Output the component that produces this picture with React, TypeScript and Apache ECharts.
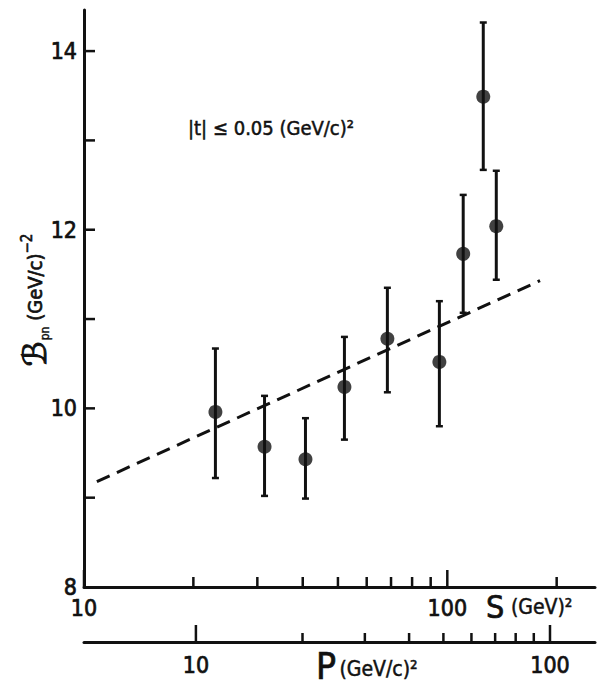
import React, { useEffect, useRef } from 'react';
import * as echarts from 'echarts';

// Measured data: s (GeV^2), slope B_pn (GeV/c)^-2 with error bars
const sValues = [23.0, 31.4, 40.7, 52.1, 68.4, 95.1, 110.6, 125.6, 136.4];
const bValues = [9.96, 9.57, 9.43, 10.24, 10.78, 10.52, 11.73, 13.49, 12.04];
const bHigh = [10.67, 10.14, 9.89, 10.8, 11.35, 11.2, 12.39, 14.32, 12.66];
const bLow = [9.22, 9.02, 8.99, 9.65, 10.18, 9.8, 11.07, 12.67, 11.44];

// Dashed fit line end points
const fitS = [10.85, 180];
const fitB = [9.18, 11.43];

// Tick values
const sMajorTicks = [10, 100];
const sMinorTicks = [20, 30, 40, 50, 60, 70, 80, 90, 200];
const pMajorTicks = [10, 100];
const pMinorTicks = [20, 30, 40, 50, 60, 70, 80, 90];
const yTicks = [9, 10, 11, 12, 13, 14];
const yLabelValues = [8, 10, 12, 14];

const FONT = "'Liberation Sans Narrow', 'DejaVu Sans Condensed', 'Liberation Sans', sans-serif";
const INK = '#111';

const S_MIN = 10;
const S_MAX = 255;
const P_MIN = 4.83;
const P_MAX = 134;
const Y_MIN = 8;
const Y_MAX = 14.46;

const labelHeavy = { textBorderColor: INK, textBorderWidth: 0.7 };
const gStroke = (w: number) => ({ stroke: INK, lineWidth: w });

const powerLabel = (v: number) => {
  const l = Math.log10(v);
  return Math.abs(l - Math.round(l)) < 1e-6 ? String(Math.round(v)) : '';
};

function xTickSeries(values: number[], xAxisIndex: number, yAxisIndex: number, baseY: number, len: number) {
  return {
    type: 'custom',
    xAxisIndex,
    yAxisIndex,
    silent: true,
    z: 5,
    clip: false,
    data: values.map((v) => [v, baseY]),
    renderItem: (_p: any, api: any) => {
      const pt = api.coord([api.value(0), api.value(1)]);
      return {
        type: 'line',
        shape: { x1: pt[0], y1: pt[1], x2: pt[0], y2: pt[1] - len },
        style: { stroke: INK, lineWidth: 2.5 },
      };
    },
  };
}

function buildOption() {
  const axisLabelStyle = { fontFamily: FONT, fontSize: 23, color: INK, ...labelHeavy };
  return {
    animation: false,
    backgroundColor: '#fff',
    grid: [
      { left: 84, right: 5, top: 10, bottom: 101 },
      { left: 84, right: 5, top: 600, bottom: 46 },
    ],
    xAxis: [
      {
        type: 'log',
        logBase: 10,
        gridIndex: 0,
        min: S_MIN,
        max: S_MAX,
        axisLine: { show: true, lineStyle: { color: INK, width: 3 } },
        axisTick: { show: false },
        splitLine: { show: false },
        axisLabel: { formatter: powerLabel, margin: 9, ...axisLabelStyle },
      },
      {
        type: 'log',
        logBase: 10,
        gridIndex: 1,
        min: P_MIN,
        max: P_MAX,
        axisLine: { show: true, lineStyle: { color: INK, width: 3 } },
        axisTick: { show: false },
        splitLine: { show: false },
        axisLabel: { formatter: powerLabel, margin: 11, ...axisLabelStyle },
      },
    ],
    yAxis: [
      {
        type: 'value',
        gridIndex: 0,
        min: Y_MIN,
        max: Y_MAX,
        interval: 1,
        axisLine: { show: true, lineStyle: { color: INK, width: 3 } },
        axisTick: { show: false },
        splitLine: { show: false },
        axisLabel: {
          formatter: (v: number) => (yLabelValues.includes(v) ? String(v) : ''),
          margin: 7,
          ...axisLabelStyle,
        },
      },
      { type: 'value', gridIndex: 1, min: 0, max: 1, show: false },
    ],
    graphic: [
      {
        type: 'text',
        x: 35,
        y: 300,
        rotation: Math.PI / 2,
        style: {
          text: '{b|ℬ}{s|pn} (GeV/c){p|−2}',
          align: 'center',
          verticalAlign: 'middle',
          fill: INK,
          fontFamily: FONT,
          fontSize: 20,
          ...gStroke(0.7),
          rich: {
            b: { fontSize: 32, fontFamily: "'DejaVu Sans', serif", fill: INK, ...gStroke(1) },
            s: { fontSize: 12, fontFamily: FONT, fill: INK, verticalAlign: 'bottom', padding: [8, 0, 0, 1], ...gStroke(0.4) },
            p: { fontSize: 15, fontFamily: FONT, fill: INK, verticalAlign: 'top', padding: [0, 0, 10, 0], ...gStroke(0.6) },
          },
        },
      },
      {
        type: 'text',
        x: 188,
        y: 128,
        style: {
          text: '|t| ≤ 0.05 (GeV/c)²',
          align: 'left',
          verticalAlign: 'middle',
          fill: INK,
          fontFamily: FONT,
          fontSize: 20,
          ...gStroke(0.5),
        },
      },
      {
        type: 'text',
        x: 486,
        y: 607,
        style: {
          text: '{a|S}  {b|(GeV)²}',
          align: 'left',
          verticalAlign: 'middle',
          fill: INK,
          rich: {
            a: { fontSize: 32, fontFamily: FONT, fill: INK, ...gStroke(0.7) },
            b: { fontSize: 21, fontFamily: FONT, fill: INK, ...gStroke(0.5) },
          },
        },
      },
      {
        type: 'text',
        x: 316,
        y: 666,
        style: {
          text: '{a|P} {b|(GeV/c)²}',
          align: 'left',
          verticalAlign: 'middle',
          fill: INK,
          rich: {
            a: { fontSize: 37, fontFamily: FONT, fill: INK, ...gStroke(0.7) },
            b: { fontSize: 21, fontFamily: FONT, fill: INK, padding: [6, 0, 0, 0], ...gStroke(0.5) },
          },
        },
      },
    ],
    series: [
      // axis ticks (S axis)
      xTickSeries(sMajorTicks, 0, 0, Y_MIN, 17),
      xTickSeries(sMinorTicks, 0, 0, Y_MIN, 10),
      // axis ticks (P axis)
      xTickSeries(pMajorTicks, 1, 1, 0, 17),
      xTickSeries(pMinorTicks, 1, 1, 0, 9),
      // y ticks
      {
        type: 'custom',
        xAxisIndex: 0,
        yAxisIndex: 0,
        silent: true,
        z: 5,
        data: yTicks.map((v) => [S_MIN, v]),
        renderItem: (_p: any, api: any) => {
          const pt = api.coord([api.value(0), api.value(1)]);
          return {
            type: 'line',
            shape: { x1: pt[0], y1: pt[1], x2: pt[0] + 11, y2: pt[1] },
            style: { stroke: INK, lineWidth: 2.5 },
          };
        },
      },
      // fit line
      {
        type: 'line',
        xAxisIndex: 0,
        yAxisIndex: 0,
        data: fitS.map((s, i) => [s, fitB[i]]),
        showSymbol: false,
        symbol: 'none',
        silent: true,
        lineStyle: { color: INK, width: 3, type: [14, 8] },
        z: 3,
      },
      // error bars
      {
        type: 'custom',
        xAxisIndex: 0,
        yAxisIndex: 0,
        silent: true,
        z: 4,
        encode: { x: 0, y: [1, 2] },
        data: sValues.map((s, i) => [s, bLow[i], bHigh[i]]),
        renderItem: (_p: any, api: any) => {
          const lo = api.coord([api.value(0), api.value(1)]);
          const hi = api.coord([api.value(0), api.value(2)]);
          const st = { stroke: INK, lineWidth: 3 };
          const cap = 3.5;
          return {
            type: 'group',
            children: [
              { type: 'line', shape: { x1: lo[0], y1: lo[1], x2: hi[0], y2: hi[1] }, style: st },
              { type: 'line', shape: { x1: lo[0] - cap, y1: lo[1], x2: lo[0] + cap, y2: lo[1] }, style: { stroke: INK, lineWidth: 2.5 } },
              { type: 'line', shape: { x1: hi[0] - cap, y1: hi[1], x2: hi[0] + cap, y2: hi[1] }, style: { stroke: INK, lineWidth: 2.5 } },
            ],
          };
        },
      },
      // data points
      {
        type: 'scatter',
        xAxisIndex: 0,
        yAxisIndex: 0,
        symbol: 'circle',
        symbolSize: 14,
        itemStyle: { color: INK },
        data: sValues.map((s, i) => [s, bValues[i]]),
        z: 6,
      },
    ],
  };
}

export default function App() {
  const ref = useRef<HTMLDivElement>(null);
  useEffect(() => {
    if (!ref.current) return;
    const chart = echarts.init(ref.current, null, { renderer: 'svg' });
    chart.setOption(buildOption() as any);
    return () => chart.dispose();
  }, []);
  return (
    <div
      ref={ref}
      style={{ position: 'absolute', left: 0, top: 0, width: 600, height: 688, background: '#fff' }}
    />
  );
}
